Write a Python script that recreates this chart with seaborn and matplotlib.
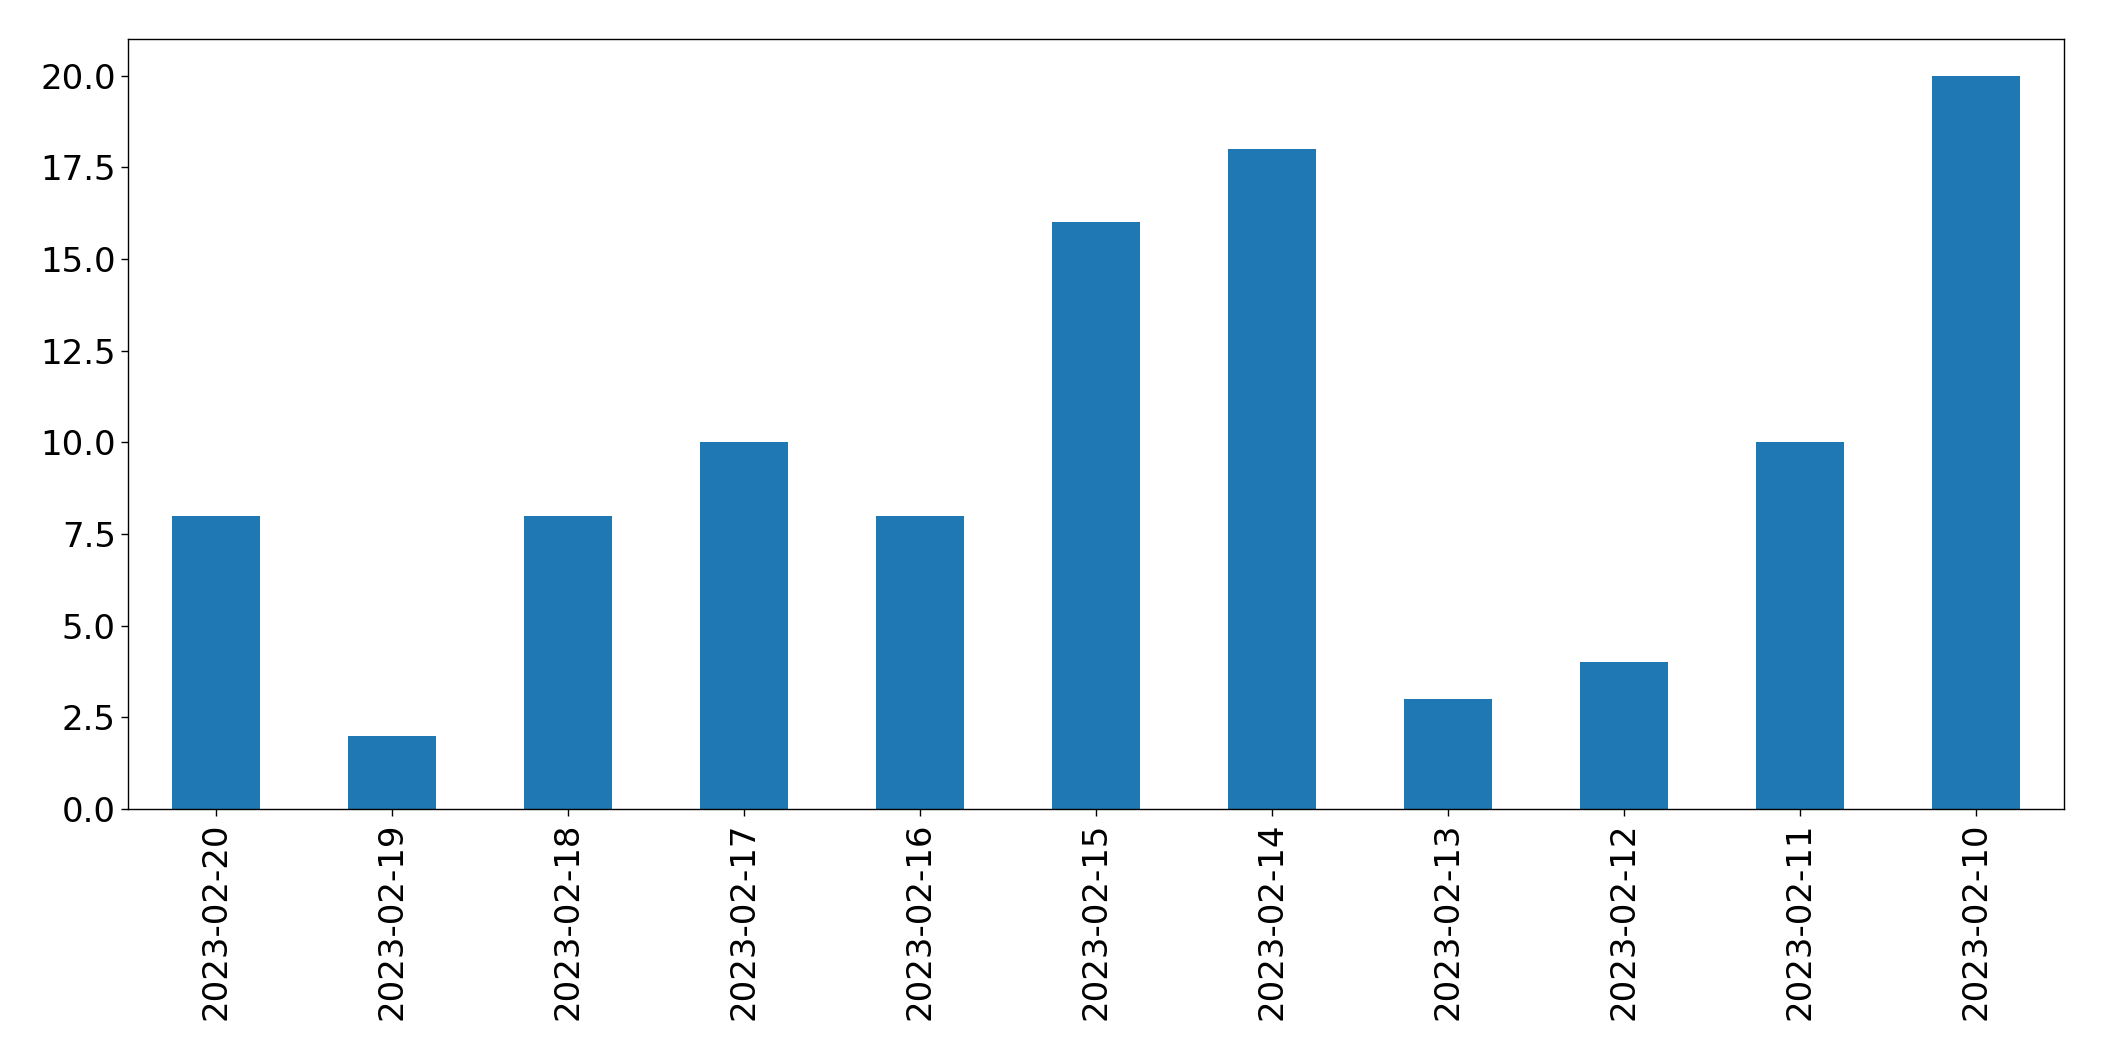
import matplotlib
matplotlib.use("Agg")
import matplotlib.pyplot as plt
import seaborn as sns
import pandas as pd

dates = ["2023-02-20", "2023-02-19", "2023-02-18", "2023-02-17", "2023-02-16",
         "2023-02-15", "2023-02-14", "2023-02-13", "2023-02-12", "2023-02-11",
         "2023-02-10"]
counts = [8, 2, 8, 10, 8, 16, 18, 3, 4, 10, 20]

df = pd.DataFrame({"date": dates, "count": counts})

sns.set_style("ticks")
plt.rcParams['font.family'] = ['DejaVu Sans']

fig = plt.figure(figsize=(21.04, 10.61), dpi=100)
ax = fig.add_axes([127.5/2104, 1 - 809/1061, (2064 - 127.5)/2104, (809 - 39)/1061])
sns.barplot(data=df, x="date", y="count", order=dates, color="#1f77b4",
            saturation=1, width=0.5, linewidth=0, edgecolor="none", ax=ax)
ax.set_xlim(-0.5, len(dates) - 0.5)
ax.set_ylim(0, 21)
ax.set_yticks([0, 2.5, 5, 7.5, 10, 12.5, 15, 17.5, 20])
ax.set_yticklabels(["0.0", "2.5", "5.0", "7.5", "10.0", "12.5", "15.0", "17.5", "20.0"])
ax.set_xlabel("")
ax.set_ylabel("")
ax.tick_params(axis="both", labelsize=24.5, length=4.9, width=1, colors="black")
ax.tick_params(axis="x", labelrotation=90, pad=5)
for s in ax.spines.values():
    s.set_visible(True)
    s.set_linewidth(1)
    s.set_color("black")
fig.savefig("out.png", dpi=100)
